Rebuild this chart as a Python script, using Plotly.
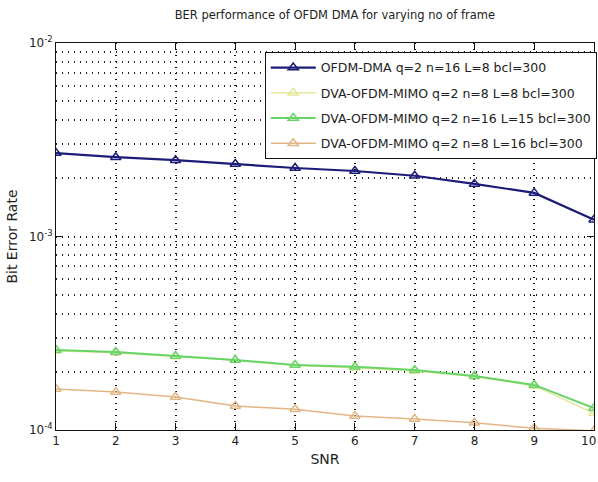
import plotly.graph_objects as go

snr = [1, 2, 3, 4, 5, 6, 7, 8, 9, 10]
ofdm_dma = [2.70e-3, 2.57e-3, 2.48e-3, 2.37e-3, 2.26e-3, 2.18e-3, 2.06e-3, 1.87e-3, 1.68e-3, 1.22e-3]
dva_n8_l8 = [2.57e-4, 2.51e-4, 2.40e-4, 2.29e-4, 2.16e-4, 2.10e-4, 2.02e-4, 1.89e-4, 1.69e-4, 1.22e-4]
dva_n16_l15 = [2.59e-4, 2.53e-4, 2.41e-4, 2.30e-4, 2.17e-4, 2.12e-4, 2.04e-4, 1.90e-4, 1.71e-4, 1.30e-4]
dva_n8_l16 = [1.63e-4, 1.57e-4, 1.48e-4, 1.33e-4, 1.28e-4, 1.18e-4, 1.14e-4, 1.09e-4, 1.02e-4, 0.99e-4]

names = [
    "OFDM-DMA q=2 n=16 L=8 bcl=300",
    "DVA-OFDM-MIMO q=2 n=8 L=8 bcl=300",
    "DVA-OFDM-MIMO q=2 n=16 L=15 bcl=300",
    "DVA-OFDM-MIMO q=2 n=8 L=16 bcl=300",
]
series = [ofdm_dma, dva_n8_l8, dva_n16_l15, dva_n8_l16]
colors = ["#1c1c78", "#e6e69a", "#66d466", "#e2b684"]
widths = [2.2, 1.5, 2, 1.5]

ytickvals = [1e-4, 1e-3, 1e-2]
yticktext = ["10<sup>-4</sup>", "10<sup>-3</sup>", "10<sup>-2</sup>"]

fig = go.Figure()
for i, (nm, ys, c, w) in enumerate(zip(names, series, colors, widths)):
    fig.add_trace(go.Scatter(
        x=snr, y=ys, name=nm, mode="lines+markers",
        line=dict(color=c, width=w),
        marker=dict(symbol="triangle-up-open", size=9, color=c, line=dict(width=1.5, color=c)),
        legendgroup=str(i),
    ))

# last tick label at the page edge (plotly would otherwise hide it)
fig.add_annotation(x=snr[-1], xref="x", y=0, yref="paper", yanchor="top", yshift=-2,
                   xanchor="right", xshift=4,
                   text=str(snr[-1]), showarrow=False, font=dict(size=12, color="#222"))

grid_dash = "1px,5px"
fig.update_layout(
    width=598, height=482,
    margin=dict(l=56, r=4, t=43, b=52, autoexpand=False),
    paper_bgcolor="white", plot_bgcolor="white",
    font=dict(family="DejaVu Sans", size=12, color="#222"),
    title=dict(text="BER performance of OFDM DMA for varying no of frame",
               x=0.56, xanchor="center", y=0.978, yanchor="top", font=dict(size=11.5)),
    legend=dict(x=0.388, y=0.977, xanchor="left", yanchor="top",
                bordercolor="#111", borderwidth=1, bgcolor="white",
                font=dict(size=12.5), tracegroupgap=6, itemwidth=45),
    showlegend=True,
)
fig.update_xaxes(
    range=[1, 10], tickvals=snr, ticks="inside", ticklen=7, tickcolor="#111",
    showline=True, linecolor="#111", linewidth=1, mirror="ticks",
    showgrid=True, gridcolor="#111", griddash=grid_dash, gridwidth=1.5,
    zeroline=False, automargin=False, title=dict(text="SNR", standoff=6),
)
fig.update_yaxes(
    type="log", range=[-4, -2], tickvals=ytickvals, ticktext=yticktext,
    ticks="inside", ticklen=7, tickcolor="#111",
    showline=True, linecolor="#111", linewidth=1, mirror="ticks",
    showgrid=True, gridcolor="#111", griddash=grid_dash, gridwidth=1.5,
    minor=dict(dtick="D1", showgrid=True, gridcolor="#222", griddash=grid_dash, gridwidth=1.5, ticks=""),
    zeroline=False, automargin=False, title=dict(text="Bit Error Rate", standoff=8),
)
fig.write_html("out.html")
